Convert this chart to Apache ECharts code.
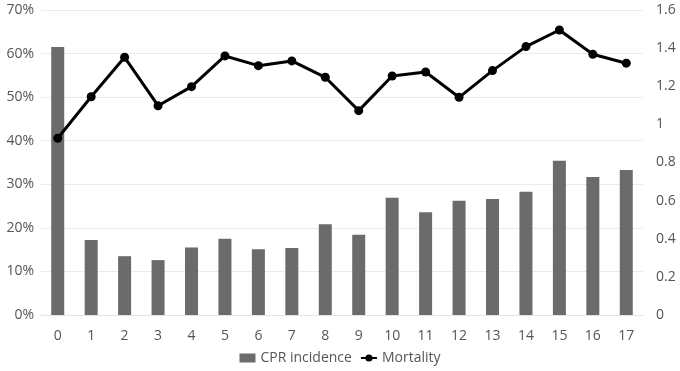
<!DOCTYPE html>
<html>
<head>
<meta charset="utf-8">
<script src="https://cdn.jsdelivr.net/npm/echarts@6/dist/echarts.min.js"></script>
<style>html,body{margin:0;padding:0;background:#fff}#c{width:680px;height:371px}</style>
</head>
<body>
<div id="c"></div>
<script>
var categories = ['0','1','2','3','4','5','6','7','8','9','10','11','12','13','14','15','16','17'];
var cprIncidence = [61.5, 17.2, 13.5, 12.6, 15.5, 17.5, 15.1, 15.4, 20.8, 18.4, 26.9, 23.6, 26.2, 26.6, 28.3, 35.4, 31.7, 33.3];
var mortality = [0.927, 1.145, 1.352, 1.098, 1.198, 1.359, 1.308, 1.333, 1.247, 1.072, 1.254, 1.275, 1.142, 1.282, 1.408, 1.495, 1.368, 1.321];

var chart = echarts.init(document.getElementById('c'));
var txt = '#555555';
var font = 'Open Sans';
chart.setOption({
  animation: false,
  textStyle: { fontFamily: font },
  grid: { left: 41, right: 37, top: 10, bottom: 56 },
  legend: {
    bottom: 1,
    left: 'center',
    itemWidth: 16, itemHeight: 9, itemGap: 8,
    textStyle: { color: txt, fontSize: 14, fontFamily: font },
    data: [
      { name: 'CPR incidence', icon: 'rect' },
      { name: 'Mortality' }
    ]
  },
  xAxis: {
    type: 'category',
    data: categories,
    axisLine: { show: true, lineStyle: { color: '#e4e4e4' } },
    axisTick: { show: false },
    axisLabel: { color: txt, fontSize: 14, margin: 14 }
  },
  yAxis: [
    {
      type: 'value', min: 0, max: 70, interval: 10,
      axisLabel: { color: txt, fontSize: 14, formatter: '{value}%', margin: 7 },
      splitLine: { lineStyle: { color: '#ebebeb' } },
      axisLine: { show: false }, axisTick: { show: false }
    },
    {
      type: 'value', min: 0, max: 1.6, interval: 0.2,
      axisLabel: { color: txt, fontSize: 14, margin: 13 },
      splitLine: { show: false },
      axisLine: { show: false }, axisTick: { show: false }
    }
  ],
  series: [
    {
      name: 'CPR incidence', type: 'bar', yAxisIndex: 0,
      data: cprIncidence, barWidth: 13,
      itemStyle: { color: '#6b6b6b' }
    },
    {
      name: 'Mortality', type: 'line', yAxisIndex: 1,
      data: mortality,
      symbol: 'circle', symbolSize: 9,
      lineStyle: { color: '#000', width: 3 },
      itemStyle: { color: '#000' }
    }
  ]
});
</script>
</body>
</html>
